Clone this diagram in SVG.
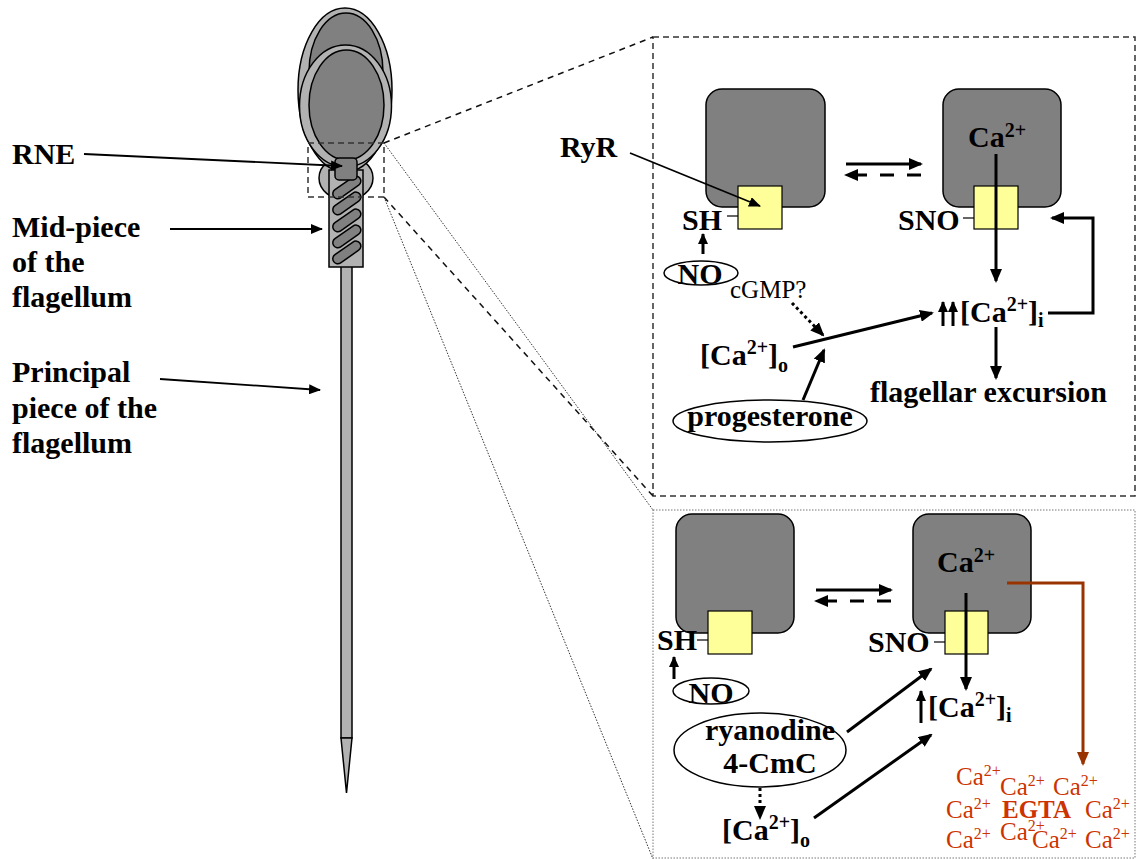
<svg xmlns="http://www.w3.org/2000/svg" width="1140" height="859" viewBox="0 0 1140 859">
  <style>
    text { font-family: "Liberation Serif", "Times New Roman", serif; fill: #000; }
    .b { font-weight: bold; font-size: 30px; }
    .r { font-size: 25px; }
    .sup { font-size: 20px; }
    .or { fill: #cc3300; font-size: 25px; }
    .or .s { font-size: 16px; }
    .egta { font-weight: bold; }
    .box { fill: #808080; stroke: #000; stroke-width: 1.5; }
    .pore { fill: #ffff99; stroke: #000; stroke-width: 1.2; }
    .tick { stroke: #000; stroke-width: 1.2; }
    .oval { fill: #fff; stroke: #000; stroke-width: 1.5; }
    .thick { stroke: #000; stroke-width: 3; fill: none; }
    .thin { stroke: #000; stroke-width: 1.8; fill: none; }
    .dash { stroke-dasharray: 14 13; }
    .dot { stroke-dasharray: 3 3; }
    .light { fill: #b2b2b2; stroke: #000; stroke-width: 1.5; }
    .dark { fill: #808080; stroke: #000; stroke-width: 1.5; }
  </style>
  <defs>
    <marker id="ah" viewBox="0 0 14 12" refX="12" refY="6" markerWidth="14" markerHeight="12" markerUnits="userSpaceOnUse" orient="auto">
      <path d="M0,0 L14,6 L0,12 z" fill="#000"/>
    </marker>
    <marker id="ahs" viewBox="0 0 11 10" refX="10" refY="5" markerWidth="11" markerHeight="10" markerUnits="userSpaceOnUse" orient="auto">
      <path d="M0,0 L11,5 L0,10 z" fill="#000"/>
    </marker>
    <marker id="ahn" viewBox="0 0 12 10" refX="11" refY="5" markerWidth="12" markerHeight="10" markerUnits="userSpaceOnUse" orient="auto">
      <path d="M0,0 L12,5 L0,10 z" fill="#000"/>
    </marker>
    <marker id="ahb" viewBox="0 0 14 12" refX="12" refY="6" markerWidth="14" markerHeight="12" markerUnits="userSpaceOnUse" orient="auto">
      <path d="M0,0 L14,6 L0,12 z" fill="#993300"/>
    </marker>
  </defs>

  <!-- spermatozoon -->
  <g id="sperm">
    <rect x="341" y="262" width="11" height="476" class="light"/>
    <polygon points="341,738 352,738 346.5,793" class="light"/>
    <ellipse cx="346" cy="178" rx="27" ry="22" class="light"/>
    <ellipse cx="345" cy="90" rx="47" ry="82" class="light"/>
    <!-- acrosome cap -->
    <ellipse cx="346" cy="72" rx="37" ry="59" class="dark"/>
    <!-- band around the nucleus -->
    <ellipse cx="345.5" cy="106" rx="46" ry="61" class="light"/>
    <ellipse cx="346.5" cy="105" rx="37.5" ry="55" class="dark"/>
    <rect x="329" y="170" width="34" height="97" class="light"/>
    <g class="dark">
      <rect x="331" y="183" width="32" height="10" rx="5" transform="rotate(-35 346 188)"/>
      <rect x="331" y="199" width="32" height="10" rx="5" transform="rotate(-35 346 204)"/>
      <rect x="331" y="216" width="32" height="10" rx="5" transform="rotate(-35 346 221)"/>
      <rect x="331" y="232" width="32" height="10" rx="5" transform="rotate(-35 346 237)"/>
      <rect x="331" y="248" width="32" height="10" rx="5" transform="rotate(-35 346 253)"/>
    </g>
    <rect x="335" y="158" width="22" height="22" rx="4" class="dark"/>
  </g>

  <!-- labels on the left -->
  <g id="label-rne">
    <text x="12" y="164" class="b">RNE</text>
  </g>
  <g id="label-midpiece">
    <text x="12" y="237" class="b">Mid-piece</text>
    <text x="12" y="272" class="b">of the</text>
    <text x="12" y="307" class="b">flagellum</text>
  </g>
  <g id="label-principal">
    <text x="12" y="382" class="b">Principal</text>
    <text x="12" y="418" class="b">piece of the</text>
    <text x="12" y="453" class="b">flagellum</text>
  </g>

  <!-- zoom frames and projection lines -->
  <g id="frames" fill="none">
    <rect x="308" y="143" width="76" height="54" stroke="#333" stroke-width="1.5" stroke-dasharray="6 4"/>
    <rect x="653" y="37" width="482" height="459" stroke="#333" stroke-width="1.5" stroke-dasharray="6 4"/>
    <rect x="653" y="510" width="482" height="348" stroke="#777" stroke-width="1" stroke-dasharray="1.5 1.5"/>
    <line x1="384" y1="143" x2="653" y2="37" stroke="#111" stroke-width="1.5" stroke-dasharray="6 5"/>
    <line x1="384" y1="197" x2="653" y2="496" stroke="#111" stroke-width="1.5" stroke-dasharray="6 5"/>
    <line x1="384" y1="143" x2="653" y2="510" stroke="#333" stroke-width="1" stroke-dasharray="1.5 1.5"/>
    <line x1="384" y1="197" x2="653" y2="859" stroke="#333" stroke-width="1" stroke-dasharray="1.5 1.5"/>
  </g>

  <!-- upper panel: RyR states -->
  <g id="ryr-reduced">
    <rect x="706" y="89" width="119" height="118" rx="16" class="box"/>
    <rect x="738" y="186" width="44" height="43" class="pore"/>
    <line x1="727" y1="216" x2="738" y2="216" class="tick"/>
    <text x="682" y="230" class="b">SH</text>
  </g>
  <g id="ryr-nitrosylated">
    <rect x="943" y="89" width="118" height="118" rx="16" class="box"/>
    <rect x="974" y="186" width="44" height="43" class="pore"/>
    <line x1="963" y1="218" x2="974" y2="218" class="tick"/>
    <text x="898" y="230" class="b">SNO</text>
    <text x="968" y="147" class="b">Ca<tspan class="sup" dy="-10">2+</tspan></text>
  </g>
  <g id="label-ryr">
    <text x="560" y="157" class="b">RyR</text>
  </g>
  <g id="no-top">
    <ellipse cx="701" cy="273" rx="37" ry="12" class="oval"/>
    <text x="700" y="284" class="b" text-anchor="middle">NO</text>
  </g>
  <g id="cgmp">
    <text x="730" y="298" class="r">cGMP?</text>
  </g>
  <g id="ca-out-top">
    <text x="700" y="365" class="b">[Ca<tspan class="sup" dy="-11">2+</tspan><tspan dy="11">]</tspan><tspan class="sup" dy="7">o</tspan></text>
  </g>
  <g id="progesterone">
    <ellipse cx="770" cy="421" rx="97" ry="21" class="oval"/>
    <text x="770" y="426" class="b" text-anchor="middle">progesterone</text>
  </g>
  <g id="ca-in-top">
    <text x="960" y="322" class="b">[Ca<tspan class="sup" dy="-11">2+</tspan><tspan dy="11">]</tspan><tspan class="sup" dy="5">i</tspan></text>
  </g>
  <g id="flagellar-excursion">
    <text x="870" y="402" class="b">flagellar excursion</text>
  </g>

  <!-- lower panel: RyR states with EGTA -->
  <g id="ryr-reduced-2">
    <rect x="676" y="514" width="118" height="119" rx="16" class="box"/>
    <rect x="708" y="611" width="44" height="43" class="pore"/>
    <line x1="697" y1="640" x2="708" y2="640" class="tick"/>
    <text x="657" y="650" class="b">SH</text>
  </g>
  <g id="ryr-nitrosylated-2">
    <rect x="913" y="514" width="118" height="119" rx="16" class="box"/>
    <rect x="945" y="611" width="43" height="43" class="pore"/>
    <line x1="934" y1="642" x2="945" y2="642" class="tick"/>
    <text x="868" y="652" class="b">SNO</text>
    <text x="937" y="572" class="b">Ca<tspan class="sup" dy="-10">2+</tspan></text>
  </g>
  <g id="no-bottom">
    <ellipse cx="711" cy="691" rx="38" ry="13" class="oval"/>
    <text x="711" y="703" class="b" text-anchor="middle">NO</text>
  </g>
  <g id="ryanodine">
    <ellipse cx="760" cy="750" rx="86" ry="37" class="oval"/>
    <text x="770" y="740" class="b" text-anchor="middle">ryanodine</text>
    <text x="770" y="773" class="b" text-anchor="middle">4-CmC</text>
  </g>
  <g id="ca-out-bottom">
    <text x="722" y="840" class="b">[Ca<tspan class="sup" dy="-11">2+</tspan><tspan dy="11">]</tspan><tspan class="sup" dy="7">o</tspan></text>
  </g>
  <g id="ca-in-bottom">
    <text x="928" y="717" class="b">[Ca<tspan class="sup" dy="-11">2+</tspan><tspan dy="11">]</tspan><tspan class="sup" dy="5">i</tspan></text>
  </g>
  <g id="egta-cluster" class="or">
    <text x="956" y="785" class="or">Ca<tspan class="s" dy="-9">2+</tspan></text>
    <text x="1000" y="795" class="or">Ca<tspan class="s" dy="-9">2+</tspan></text>
    <text x="1053" y="795" class="or">Ca<tspan class="s" dy="-9">2+</tspan></text>
    <text x="946" y="818" class="or">Ca<tspan class="s" dy="-9">2+</tspan></text>
    <text x="1002" y="818" class="or egta">EGTA</text>
    <text x="1085" y="818" class="or">Ca<tspan class="s" dy="-9">2+</tspan></text>
    <text x="946" y="848" class="or">Ca<tspan class="s" dy="-9">2+</tspan></text>
    <text x="1000" y="840" class="or">Ca<tspan class="s" dy="-9">2+</tspan></text>
    <text x="1032" y="848" class="or">Ca<tspan class="s" dy="-9">2+</tspan></text>
    <text x="1085" y="848" class="or">Ca<tspan class="s" dy="-9">2+</tspan></text>
  </g>

  <!-- connectors -->
  <g id="connectors">
    <!-- pointers from the left labels -->
    <line x1="84" y1="154" x2="342" y2="166" class="thin" marker-end="url(#ahn)"/>
    <line x1="170" y1="229" x2="322" y2="229" class="thin" marker-end="url(#ahn)"/>
    <line x1="160" y1="379" x2="320" y2="390" class="thin" marker-end="url(#ahn)"/>
    <line x1="630" y1="153" x2="760" y2="206" class="thin" marker-end="url(#ahn)"/>

    <!-- upper panel -->
    <line x1="846" y1="164" x2="921" y2="164" class="thick" marker-end="url(#ah)"/>
    <line x1="921" y1="175" x2="846" y2="175" class="thick dash" marker-end="url(#ah)"/>
    <line x1="703" y1="254" x2="703" y2="234" class="thick" marker-end="url(#ahs)"/>
    <line x1="792" y1="303" x2="823" y2="335" class="thick dot" marker-end="url(#ah)"/>
    <line x1="793" y1="347" x2="932" y2="313" class="thick" marker-end="url(#ah)"/>
    <line x1="803" y1="400" x2="824" y2="350" class="thick" marker-end="url(#ah)"/>
    <line x1="996" y1="154" x2="996" y2="281" class="thick" marker-end="url(#ah)"/>
    <line x1="996" y1="327" x2="996" y2="378" class="thick" marker-end="url(#ah)"/>
    <line x1="943" y1="326" x2="943" y2="302" class="thick" marker-end="url(#ahs)"/>
    <line x1="953" y1="326" x2="953" y2="302" class="thick" marker-end="url(#ahs)"/>
    <polyline points="1048,313 1093,313 1093,218 1052,218" class="thick" marker-end="url(#ah)"/>

    <!-- lower panel -->
    <line x1="816" y1="590" x2="891" y2="590" class="thick" marker-end="url(#ah)"/>
    <line x1="891" y1="601" x2="816" y2="601" class="thick dash" marker-end="url(#ah)"/>
    <line x1="674" y1="679" x2="674" y2="657" class="thick" marker-end="url(#ahs)"/>
    <line x1="966" y1="593" x2="966" y2="689" class="thick" marker-end="url(#ah)"/>
    <line x1="921" y1="723" x2="921" y2="691" class="thick" marker-end="url(#ahs)"/>
    <line x1="847" y1="732" x2="931" y2="669" class="thick" marker-end="url(#ah)"/>
    <line x1="814" y1="818" x2="931" y2="735" class="thick" marker-end="url(#ah)"/>
    <line x1="760" y1="788" x2="760" y2="818" class="thick dot" marker-end="url(#ah)"/>
    <polyline points="1007,583 1083,583 1083,764" fill="none" stroke="#993300" stroke-width="3" marker-end="url(#ahb)"/>
  </g>
</svg>
